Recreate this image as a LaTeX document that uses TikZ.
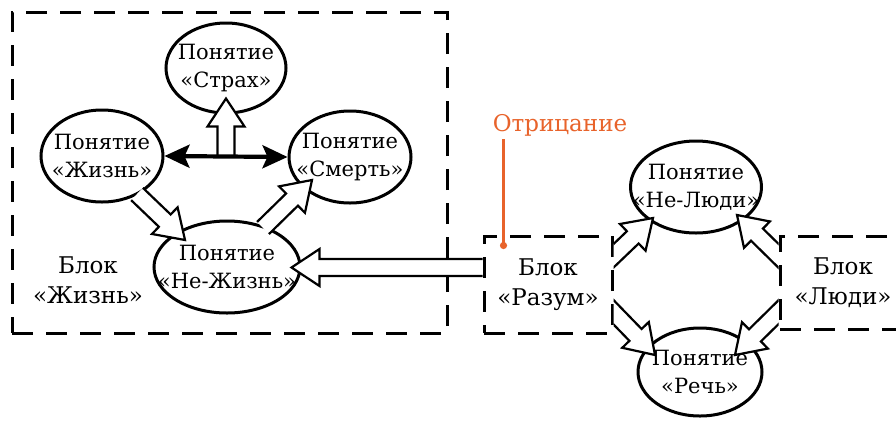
\documentclass[tikz,border=0pt]{standalone}
\usepackage{fontspec}
\setmainfont{DejaVu Serif}
\usetikzlibrary{calc,arrows.meta,shapes.geometric}
\definecolor{otrorange}{HTML}{E8632B}

\tikzset{
  concept/.style={ellipse, draw, line width=3pt, fill=white, inner sep=0pt},
  conceptlabel/.style={align=center, font=\fontsize{21}{28}\selectfont},
  blockbox/.style={draw, line width=3pt, dash pattern=on 21pt off 13pt, align=center,
    font=\fontsize{23}{30}\selectfont},
  fat/.style={draw, fill=white, line width=2.2pt, line join=miter},
  biarrow/.style={line width=4.2pt,
    {Stealth[length=25pt,width=23pt,inset=5pt]}-{Stealth[length=25pt,width=23pt,inset=5pt]}},
}

% hollow block arrow from tail #1 to tip #2
\newcommand\blockarrow[2]{%
  \path[fat] let \p1=(#1), \p2=(#2), \p3=($(\p2)!28pt!(\p1)$) in
    ($(\p1)!8.5pt!90:(\p2)$) -- ($(\p3)!8.5pt!90:(\p2)$) -- ($(\p3)!18.5pt!90:(\p2)$)
    -- (\p2) -- ($(\p3)!18.5pt!-90:(\p2)$) -- ($(\p3)!8.5pt!-90:(\p2)$)
    -- ($(\p1)!8.5pt!-90:(\p2)$);}

\begin{document}
\begin{tikzpicture}[x=1pt,y=-1pt]
  \path[use as bounding box, clip] (0,0) rectangle (896,421);

  % block "Zhizn"
  \node[blockbox, minimum width=435pt, minimum height=321pt] (zhiznbox) at (229.5,172.5) {};
  \node[align=center, font=\fontsize{23}{30}\selectfont] (zhiznlabel) at (88,280) {Блок\\«Жизнь»};

  % concepts
  \node[concept, minimum width=120pt, minimum height=90pt,
    label={[conceptlabel]center:Понятие\\«Страх»}] (strakh) at (226,68) {};
  \node[concept, minimum width=122pt, minimum height=92pt,
    label={[conceptlabel]center:Понятие\\«Жизнь»}] (zhizn) at (102,156) {};
  \node[concept, minimum width=122pt, minimum height=92pt,
    label={[conceptlabel]center:Понятие\\«Смерть»}] (smert) at (350,157) {};
  \node[concept, minimum width=146pt, minimum height=92pt,
    label={[conceptlabel]center:Понятие\\«Не-Жизнь»}] (nezhizn) at (227,267) {};
  \node[concept, minimum width=131pt, minimum height=92pt,
    label={[conceptlabel]center:Понятие\\«Не-Люди»}] (neludi) at (696,187) {};
  \node[concept, minimum width=124pt, minimum height=88pt,
    label={[conceptlabel]center:Понятие\\«Речь»}] (rech) at (700,372) {};

  % blocks on the right
  \node[blockbox, fill=white, minimum width=128pt, minimum height=97pt] (razum) at (548,284.5) {Блок\\«Разум»};
  \node[blockbox, fill=white, minimum width=126pt, minimum height=93pt] (ludi) at (843,282.5) {Блок\\«Люди»};

  \blockarrow{$(zhizn.east)!0.5!(smert.west)$}{$(strakh.south)+(0,-16)$}
  \draw[biarrow] (zhizn.east) -- (smert.west);
  \blockarrow{$(zhizn.center)+(35,38)$}{$(nezhizn.center)+(-42,-27)$}
  \blockarrow{$(nezhizn.center)+(36,-39)$}{$(smert.center)+(-38,23)$}
  \blockarrow{$(razum.west)+(0,-17)$}{$(nezhizn.east)+(-10,0.5)$}

  \begin{scope}
    \clip (razum.east |- 0,0) rectangle (ludi.west |- 0,421);
    \blockarrow{$(razum.east)+(-7.3,-21.7)$}{$(neludi.center)+(-43,31)$}
    \blockarrow{$(razum.east)+(-7.1,20.4)$}{$(rech.center)+(-45,-17)$}
    \blockarrow{$(ludi.west)+(7.2,-19.6)$}{$(neludi.center)+(41,28)$}
    \blockarrow{$(ludi.west)+(7.2,22.6)$}{$(rech.center)+(35,-17)$}
  \end{scope}

  % negation
  \node[text=otrorange, font=\fontsize{23}{27}\selectfont] (otr) at (560,125) {Отрицание};
  \coordinate (otrdot) at ($(razum.north west)+(21,11)$);
  \draw[otrorange, line width=2.4pt] (otrdot |- otr.south) -- (otrdot);
  \fill[otrorange] (otrdot) circle (3.6pt);
\end{tikzpicture}
\end{document}
